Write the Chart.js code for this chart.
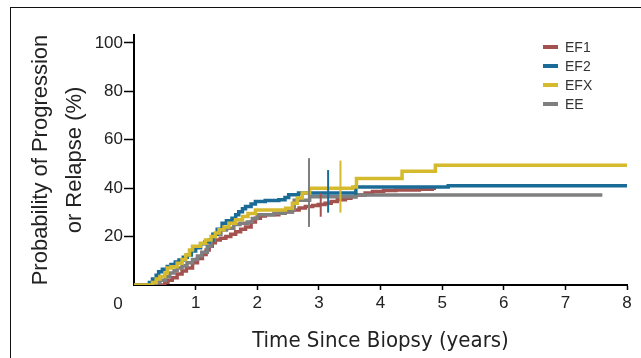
<!DOCTYPE html>
<html>
<head>
<meta charset="utf-8">
<script src="https://cdn.jsdelivr.net/npm/chart.js@4/dist/chart.umd.min.js"></script>
<style>
  html, body { margin: 0; padding: 0; background: #fff; }
  #wrap { position: relative; width: 641px; height: 358px; }
  #frame { position: absolute; left: 10px; top: 7px; right: 0; bottom: 0;
           border-left: 1px solid #111; border-top: 1px solid #111; pointer-events: none; }
</style>
</head>
<body>
<div id="wrap">
  <canvas id="kmChart" width="641" height="358"></canvas>
  <div id="frame"></div>
</div>
<script>
// ==========================
// Data (years, %)
// ==========================
const seriesNames = ["EF1", "EF2", "EFX", "EE"];
const seriesColors = ["#a4524f", "#1b6b97", "#d5ba2d", "#7f7f7f"];

const ef1Times  = [0, 0.5, 0.55, 0.62, 0.7, 0.78, 0.85, 0.95, 1.03, 1.11, 1.17, 1.22, 1.27, 1.32, 1.4, 1.49, 1.57, 1.65, 1.73, 1.81, 1.9, 1.97, 2.05, 2.13, 2.35, 2.45, 2.57, 2.68, 2.78, 2.9, 2.99, 3.1, 3.2, 3.3, 3.43, 3.52, 3.6, 3.75, 3.87, 4.05, 4.25, 4.63, 4.84, 4.9];
const ef1Values = [0, 1, 2, 3, 4.5, 5.8, 7, 9.2, 11, 12.6, 14.5, 16, 17.5, 18.6, 19.3, 20, 21, 22, 23, 24, 26, 27.6, 28.5, 29, 29.6, 30.3, 31, 31.8, 32.4, 32.8, 33.3, 33.8, 34.5, 35.2, 35.8, 36.5, 37.2, 38, 38.6, 39, 39.3, 39.6, 40, 40];

const ef2Times  = [0, 0.25, 0.3, 0.36, 0.4, 0.46, 0.54, 0.6, 0.67, 0.73, 0.8, 0.865, 0.93, 1.0, 1.08, 1.15, 1.22, 1.28, 1.35, 1.43, 1.5, 1.59, 1.65, 1.7, 1.76, 1.81, 1.9, 1.97, 2.13, 2.35, 2.45, 2.51, 2.67, 3.6, 5.1, 8.0];
const ef2Values = [0, 1, 2.5, 4, 5.5, 6.5, 7.6, 8.5, 9.5, 10.3, 11.5, 12.4, 14, 15.4, 17, 17.8, 18.6, 21, 23, 25.5, 26.5, 27.6, 29, 30.3, 31.5, 32.4, 33.5, 34.5, 34.9, 35.2, 36.2, 37.3, 38, 40.5, 41, 41];

const efxTimes  = [0, 0.3, 0.36, 0.42, 0.5, 0.54, 0.6, 0.7, 0.78, 0.84, 0.9, 0.95, 1.08, 1.16, 1.25, 1.32, 1.38, 1.46, 1.54, 1.65, 1.76, 1.85, 1.97, 2.46, 2.57, 2.65, 2.73, 2.85, 3.55, 3.61, 4.35, 4.89, 8.0];
const efxValues = [0, 1, 2.5, 3.5, 5, 7, 7.5, 9, 10.5, 12.4, 14.5, 16, 17.2, 18.6, 20, 21.5, 22.8, 24, 25.5, 27, 28.3, 29.5, 31, 31.7, 33.8, 36, 38, 40, 40.5, 44, 47, 49.5, 49.5];

const eeTimes  = [0, 0.35, 0.42, 0.51, 0.58, 0.65, 0.7, 0.78, 0.86, 0.95, 1.03, 1.1, 1.19, 1.25, 1.3, 1.41, 1.5, 1.62, 1.72, 1.84, 1.92, 2.0, 2.27, 2.45, 2.57, 2.6, 2.85, 3.6, 7.6];
const eeValues = [0, 1, 2, 3.4, 5, 6, 7, 8, 9.2, 10.5, 12, 13.5, 16, 18.5, 21, 22.7, 23.5, 25, 25.5, 26, 27.5, 29, 29.6, 30.2, 31, 35, 36.5, 37.2, 37.2];

// vertical marks near 3 years: [time, low, high] per series
const ef1Mark = [3.03, 28.2, 38];
const ef2Mark = [3.15, 29.9, 47.5];
const efxMark = [3.35, 29.9, 51.4];
const eeMark  = [2.84, 24, 52.4];

const xTicks = [0, 1, 2, 3, 4, 5, 6, 7, 8];
const yTicks = [20, 40, 60, 80, 100];

// ==========================
// Helpers
// ==========================
const toPoints = (times, values) => times.map((t, i) => ({ x: t, y: values[i] }));
const markPoints = m => [{ x: m[0], y: m[1] }, { x: m[0], y: m[2] }];

const curves = [
  toPoints(ef1Times, ef1Values),
  toPoints(ef2Times, ef2Values),
  toPoints(efxTimes, efxValues),
  toPoints(eeTimes, eeValues)
];
const marks = [ef1Mark, ef2Mark, efxMark, eeMark];
const drawOrder = [4, 2, 1, 3]; // lower = on top

const datasets = [];
curves.forEach((pts, i) => {
  datasets.push({
    label: seriesNames[i],
    data: pts,
    borderColor: seriesColors[i],
    borderWidth: 3.5,
    stepped: "before",
    pointRadius: 0,
    fill: false,
    order: drawOrder[i]
  });
});
marks.forEach((m, i) => {
  datasets.push({
    label: seriesNames[i] + " mark",
    data: markPoints(m),
    borderColor: seriesColors[i],
    borderWidth: 2,
    pointRadius: 0,
    fill: false,
    order: 0
  });
});

const tickFont = { family: '"Liberation Sans", Arial, sans-serif', size: 17 };
const narrowFont = '"Liberation Sans Narrow", "DejaVu Sans Condensed", "Liberation Sans", sans-serif';

// ==========================
// Legend + origin label drawn in the plot
// ==========================
const extras = {
  id: "extras",
  afterDraw(chart) {
    const ctx = chart.ctx;
    ctx.save();
    // legend
    ctx.font = '14px "Liberation Sans", Arial, sans-serif';
    ctx.textBaseline = "middle";
    ctx.textAlign = "left";
    seriesNames.forEach((name, i) => {
      const y = 47 + i * 19;
      ctx.strokeStyle = seriesColors[i];
      ctx.lineWidth = 4;
      ctx.beginPath();
      ctx.moveTo(543, y);
      ctx.lineTo(558, y);
      ctx.stroke();
      ctx.fillStyle = "#333";
      ctx.fillText(name, 565, y + 1);
    });
    // shared "0" at origin
    ctx.font = '17px "Liberation Sans", Arial, sans-serif';
    ctx.textAlign = "center";
    ctx.fillStyle = "#222";
    ctx.fillText("0", 118, 304);
    ctx.restore();
  }
};

new Chart(document.getElementById("kmChart"), {
  type: "line",
  data: { datasets: datasets },
  options: {
    responsive: false,
    animation: false,
    layout: { padding: { top: 35, right: 14, left: 0, bottom: 0 } },
    plugins: {
      legend: { display: false },
      tooltip: { enabled: false }
    },
    scales: {
      x: {
        type: "linear",
        min: 0,
        max: 8,
        afterBuildTicks: s => { s.ticks = xTicks.map(v => ({ value: v })); },
        afterFit: s => { s.height = 73; },
        ticks: {
          font: tickFont,
          color: "#222",
          padding: 3,
          maxRotation: 0,
          callback: v => (v === 0 ? "" : v)
        },
        grid: {
          drawOnChartArea: false,
          tickLength: 5,
          tickWidth: 1.5,
          tickColor: ctx => (ctx.tick && ctx.tick.value === 0 ? "rgba(0,0,0,0)" : "#000")
        },
        border: { display: true, color: "#000", width: 2 },
        title: {
          display: true,
          text: "Time Since Biopsy (years)",
          font: { family: narrowFont, size: 22 },
          color: "#222",
          padding: { top: 0, bottom: 4 }
        }
      },
      y: {
        type: "linear",
        min: 0,
        max: 103.3,
        afterBuildTicks: s => { s.ticks = yTicks.map(v => ({ value: v })); },
        afterFit: s => { s.width = 134; },
        ticks: {
          font: tickFont,
          color: "#222",
          padding: 1
        },
        grid: {
          drawOnChartArea: false,
          tickLength: 10,
          tickWidth: 1.5,
          tickColor: "#000"
        },
        border: { display: true, color: "#000", width: 2 },
        title: {
          display: true,
          text: ["Probability of Progression", "or Relapse (%)"],
          font: { family: '"Liberation Sans", Arial, sans-serif', size: 22, lineHeight: 1.55 },
          color: "#222",
          padding: { top: 24, bottom: 0 }
        }
      }
    }
  },
  plugins: [extras]
});
</script>
</body>
</html>
